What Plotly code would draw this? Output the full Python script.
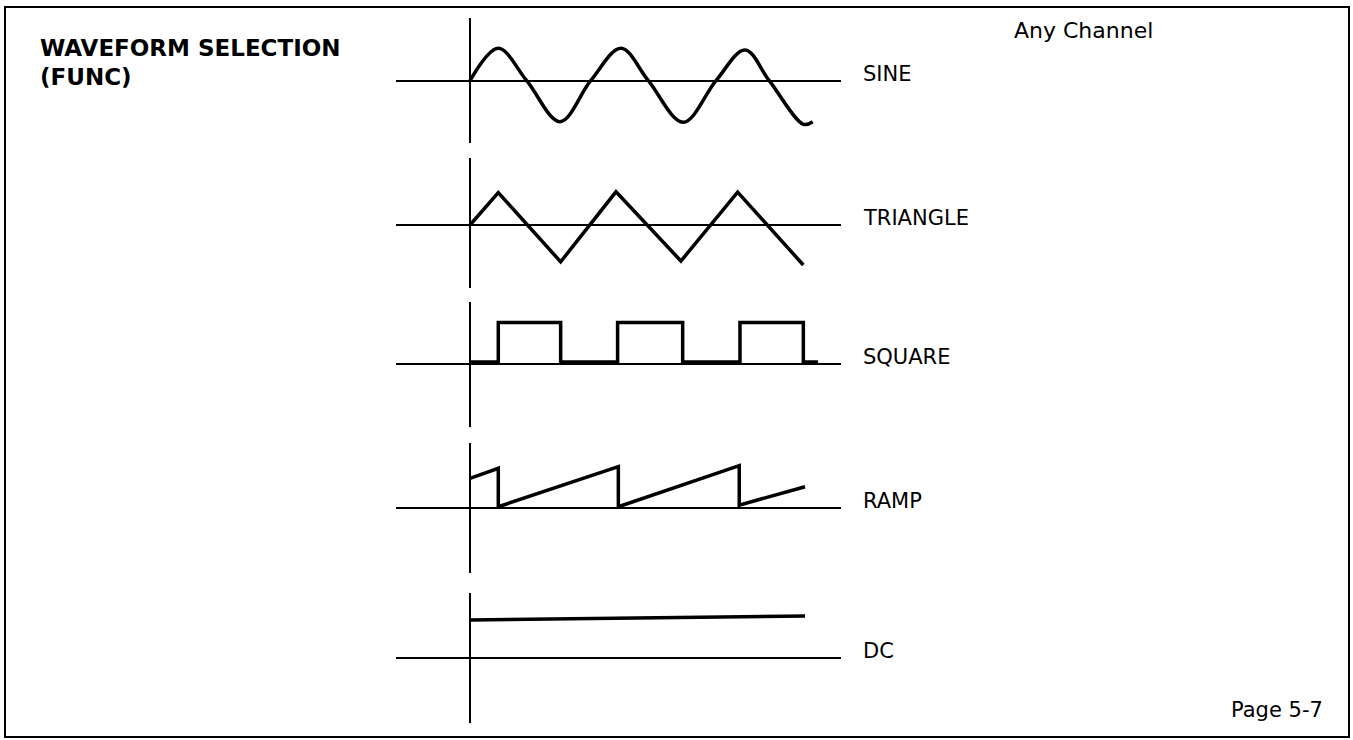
import plotly.graph_objects as go

# ---------------- data ----------------
# time in cycles (0 = vertical reference line), amplitude in units
sine_t = [0.0, 0.230, 0.461, 0.732, 0.981, 1.228, 1.450, 1.734, 2.000, 2.236, 2.433, 2.710, 2.786]
sine_v = [0.0, 0.81, 0.0, -1.025, 0.0, 0.81, 0.0, -1.04, 0.0, 0.77, 0.0, -1.09, -1.025]

tri_t = [0.0, 0.230, 0.737, 1.187, 1.715, 2.176, 2.710]
tri_v = [0.0, 0.81, -0.92, 0.83, -0.90, 0.82, -1.00]

sq_t = [0.0, 0.230, 0.737, 1.200, 1.729, 2.195, 2.710, 2.830]
sq_v = [0.05, 1.04, 0.05, 1.04, 0.05, 1.04, 0.05, 0.05]

ramp_t = [0.0, 0.230, 0.230, 1.206, 1.206, 2.189, 2.189, 2.724]
ramp_v = [0.75, 1.00, 0.04, 1.04, 0.04, 1.065, 0.08, 0.54]

dc_t = [0.0, 2.724]
dc_v = [0.96, 1.06]

labels = ["SINE", "TRIANGLE", "SQUARE", "RAMP", "DC"]

# ---------------- layout geometry (pixels) ----------------
W, H = 1353, 740
X_LEFT, X_RIGHT, X_ZERO, PX_PER_CYCLE = 396, 841, 470, 123
PX_PER_UNIT = 40
rows_px = [  # top, baseline, bottom
    (18, 80.7, 143),
    (158, 225, 288),
    (302, 364, 427),
    (443, 508.3, 573),
    (593, 658.3, 723),
]
series = [(sine_t, sine_v, "spline"), (tri_t, tri_v, "linear"),
          (sq_t, sq_v, "hv"), (ramp_t, ramp_v, "linear"), (dc_t, dc_v, "linear")]

FONT = "DejaVu Sans"
fig = go.Figure()
layout = {}
xr = [(X_LEFT - X_ZERO) / PX_PER_CYCLE, (X_RIGHT - X_ZERO) / PX_PER_CYCLE]
annotations = []
for i, ((top, base, bot), (t, v, shape)) in enumerate(zip(rows_px, series)):
    n = "" if i == 0 else str(i + 1)
    line = dict(color="black", width=3.5, shape=shape)
    if shape == "spline":
        line["smoothing"] = 1.0
    fig.add_trace(go.Scatter(x=t, y=v, mode="lines", line=line,
                             xaxis="x" + n, yaxis="y" + n,
                             hoverinfo="skip", showlegend=False))
    layout["xaxis" + n] = dict(domain=[X_LEFT / W, X_RIGHT / W], range=xr,
                               anchor="y" + n, showgrid=False, showticklabels=False,
                               ticks="", showline=False, zeroline=True,
                               zerolinecolor="black", zerolinewidth=2, fixedrange=True)
    layout["yaxis" + n] = dict(domain=[1 - bot / H, 1 - top / H],
                               range=[(base - bot) / PX_PER_UNIT, (base - top) / PX_PER_UNIT],
                               anchor="x" + n, showgrid=False, showticklabels=False,
                               ticks="", showline=False, zeroline=True,
                               zerolinecolor="black", zerolinewidth=2, fixedrange=True)
    annotations.append(dict(text=labels[i], x=861 / W, y=1 - (base - 7) / H,
                            xref="paper", yref="paper", xanchor="left", yanchor="middle",
                            showarrow=False, font=dict(family=FONT, size=21, color="black")))

annotations += [
    dict(text="<b>WAVEFORM SELECTION</b>", x=38 / W, y=1 - 48 / H, xref="paper", yref="paper",
         xanchor="left", yanchor="middle", showarrow=False,
         font=dict(family=FONT, size=23, color="black")),
    dict(text="<b>(FUNC)</b>", x=38 / W, y=1 - 77 / H, xref="paper", yref="paper",
         xanchor="left", yanchor="middle", showarrow=False,
         font=dict(family=FONT, size=23, color="black")),
    dict(text="Any Channel", x=1012 / W, y=1 - 30 / H, xref="paper", yref="paper",
         xanchor="left", yanchor="middle", showarrow=False,
         font=dict(family=FONT, size=22, color="black")),
    dict(text="Page 5-7", x=1229 / W, y=1 - 710 / H, xref="paper", yref="paper",
         xanchor="left", yanchor="middle", showarrow=False,
         font=dict(family=FONT, size=21, color="black")),
]

shapes = [dict(type="rect", xref="paper", yref="paper",
               x0=5 / W, x1=1349 / W, y0=1 - 737 / H, y1=1 - 7 / H,
               line=dict(color="black", width=2))]

fig.update_layout(**layout)
fig.update_layout(width=W, height=H, margin=dict(l=0, r=0, t=0, b=0),
                  paper_bgcolor="white", plot_bgcolor="rgba(0,0,0,0)",
                  annotations=annotations, shapes=shapes, showlegend=False)
fig.write_html("out.html", config={"displayModeBar": False},
               post_script="document.body.style.margin='0';document.body.style.overflow='hidden';")
